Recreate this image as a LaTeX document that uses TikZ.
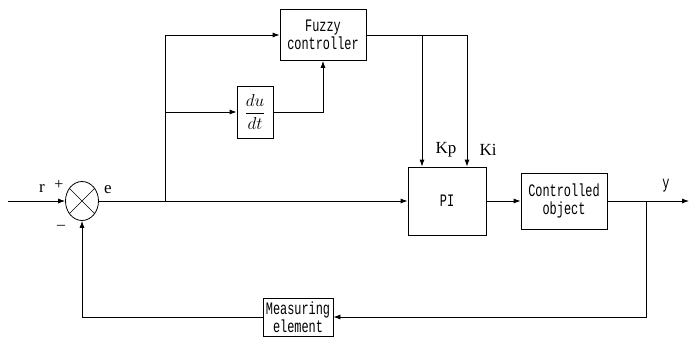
\documentclass[tikz,border=0pt]{standalone}
\usepackage{amsmath}
\usepackage{fontspec}
\setmainfont{Liberation Serif}
\newfontfamily\boxfont[FakeStretch=0.68]{Liberation Mono}
\usetikzlibrary{arrows.meta,shapes.geometric}
\begin{document}
\begin{tikzpicture}[
    x=1pt,y=-1pt,line width=.8pt,>={Latex[length=7pt,width=5pt]},
    every node/.style={font=\fontsize{17}{18}\selectfont},
    block/.style={draw,inner sep=0pt,align=center,
        font=\boxfont\fontsize{17.5}{17.5}\selectfont}]
    \useasboundingbox (0,0) rectangle (699,337);
    % blocks
    \node[draw,ellipse,inner sep=0pt,minimum width=33pt,minimum height=39pt]
        (sum) at (82,201) {};
    \draw[line width=.7pt] (sum.45) -- (sum.225) (sum.135) -- (sum.315);
    \node[block,minimum width=86pt,minimum height=51pt] (fuzzy) at (323,35)
        {Fuzzy\\controller};
    \node[block,minimum width=36pt,minimum height=52pt,
        font=\fontsize{17}{19}\selectfont] (ddt) at (255,112)
        {$\dfrac{du}{dt}$};
    \node[block,minimum width=78pt,minimum height=68pt] (pi) at (447,201) {PI};
    \node[block,minimum width=86pt,minimum height=56pt] (plant) at (564,201)
        {Controlled\\object};
    \node[block,minimum width=70pt,minimum height=38pt] (meas) at (298,317)
        {Measuring\\element};
    % branch points
    \coordinate (in) at (8,201);
    \coordinate (b1) at (165,201);
    \coordinate (b2) at (165,112);
    \coordinate (t1) at (422,35);
    \coordinate (t2) at (467,35);
    \coordinate (b3) at (646,201);
    \coordinate (out) at (689,201);
    % signal lines
    \draw[->] (in) -- (sum.west);
    \draw[->] (sum.east) -- (pi.west);
    \draw[->] (b1) |- (fuzzy.west);
    \draw[->] (b2) -- (ddt.west);
    \draw[->] (ddt.east) -| (fuzzy.south);
    \draw (fuzzy.east) -- (t2);
    \draw[->] (t1) -- (t1 |- pi.north);
    \draw[->] (t2) -- (t2 |- pi.north);
    \draw[->] (pi) -- (plant);
    \draw[->] (plant) -- (out);
    \draw[->] (b3) |- (meas.east);
    \draw[->] (meas.west) -| (sum.south);
    % labels
    \node (rlab) at (42,188) {r};
    \node[font=\fontsize{16}{16}\selectfont] (plus) at (59,185) {+};
    \node[font=\fontsize{16}{16}\selectfont] (minus) at (61,227) {–};
    \node (elab) at (108,190) {e};
    \node (kp) at (446,150) {Kp};
    \node (ki) at (488,150) {Ki};
    \node[font=\boxfont\fontsize{17.5}{17.5}\selectfont] (ylab) at (666,186) {y};
\end{tikzpicture}
\end{document}
